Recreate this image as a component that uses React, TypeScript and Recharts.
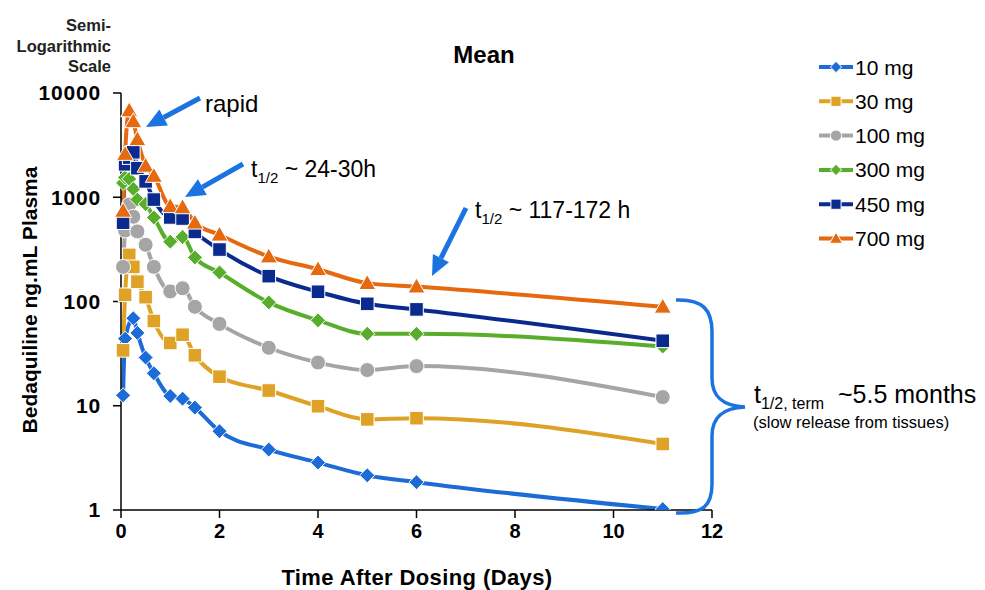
import React from 'react';
import { LineChart, Line, XAxis, YAxis } from 'recharts';

// Mean bedaquiline plasma concentration, semi-log
const times = [0.042, 0.083, 0.167, 0.25, 0.333, 0.5, 0.667, 1, 1.25, 1.5, 2, 3, 4, 5, 6, 11];
const mg10 = [12.6, 44, null, 69, 50, 29, 20.5, 12.4, 11.7, 9.6, 5.7, 3.8, 2.85, 2.15, 1.85, 1.02];
const mg30 = [34, 116, 280, 215, 155, 110, 65, 40, 48, 30.5, 19, 14, 9.9, 7.4, 7.6, 4.3];
const mg100 = [215, 480, 850, 650, 470, 350, 215, 125, 134, 89, 61, 36, 26, 22, 24, 12.1];
const mg300 = [1370, 1550, 1500, 1200, 950, 860, 640, 375, 415, 265, 190, 98, 66, 49, 49, 37];
const mg450 = [570, 2070, 2400, 2700, 1900, 1420, 950, 640, 625, 465, 315, 175, 124, 95, 84, 42];
const mg700 = [740, 2600, 6800, 5350, 3600, 2000, 1600, 820, 800, 570, 437, 270, 204, 150, 139, 89];

const xTicks = [0, 2, 4, 6, 8, 10, 12];
const yTicks = [1, 10, 100, 1000, 10000];

const FONT = "'Liberation Sans', Arial, sans-serif";
const ARROW = '#1A73E0';

type Shape = 'diamond' | 'square' | 'circle' | 'triangle';

const series: { key: string; name: string; color: string; shape: Shape; values: (number | null)[] }[] = [
  { key: 'mg10', name: '10 mg', color: '#1C6BD6', shape: 'diamond', values: mg10 },
  { key: 'mg30', name: '30 mg', color: '#DEA227', shape: 'square', values: mg30 },
  { key: 'mg100', name: '100 mg', color: '#A5A5A5', shape: 'circle', values: mg100 },
  { key: 'mg300', name: '300 mg', color: '#58AE2B', shape: 'diamond', values: mg300 },
  { key: 'mg450', name: '450 mg', color: '#0B2A8E', shape: 'square', values: mg450 },
  { key: 'mg700', name: '700 mg', color: '#E5690F', shape: 'triangle', values: mg700 },
];

const data = times.map((t, i) => {
  const row: any = { t };
  series.forEach((s) => {
    row[s.key] = s.values[i];
  });
  return row;
});

function marker(shape: Shape, cx: number, cy: number, color: string, s = 1, key?: any) {
  const stroke = '#fff';
  if (shape === 'diamond') {
    const r = 7.5 * s;
    return (
      <polygon key={key} points={`${cx},${cy - r} ${cx + r},${cy} ${cx},${cy + r} ${cx - r},${cy}`} fill={color} stroke={stroke} strokeWidth={1} />
    );
  }
  if (shape === 'square') {
    const h = 6.8 * s;
    return <rect key={key} x={cx - h} y={cy - h} width={h * 2} height={h * 2} fill={color} stroke={stroke} strokeWidth={1} />;
  }
  if (shape === 'circle') {
    return <circle key={key} cx={cx} cy={cy} r={7.5 * s} fill={color} stroke={stroke} strokeWidth={1} />;
  }
  const r = 8.5 * s;
  return (
    <polygon key={key} points={`${cx},${cy - r} ${cx + r},${cy + r * 0.75} ${cx - r},${cy + r * 0.75}`} fill={color} stroke={stroke} strokeWidth={1} />
  );
}

function LegendBox() {
  return (
    <g>
      {series.map((s, i) => {
        const y = 67 + i * 34.3;
        return (
          <g key={s.key}>
            <line x1={819} x2={853} y1={y} y2={y} stroke={s.color} strokeWidth={4} />
            {marker(s.shape, 836, y, s.color, 0.75)}
            <text x={855} y={y + 7.5} fontSize={21} fontFamily={FONT} fill="#000">
              {s.name}
            </text>
          </g>
        );
      })}
    </g>
  );
}

function Arrow({ x1, y1, x2, y2 }: { x1: number; y1: number; x2: number; y2: number }) {
  const dx = x2 - x1;
  const dy = y2 - y1;
  const len = Math.sqrt(dx * dx + dy * dy);
  const ux = dx / len;
  const uy = dy / len;
  const hl = 20;
  const hw = 9;
  const bx = x2 - ux * hl;
  const by = y2 - uy * hl;
  return (
    <g>
      <line x1={x1} y1={y1} x2={bx} y2={by} stroke={ARROW} strokeWidth={5} />
      <polygon
        points={`${x2},${y2} ${bx - uy * hw},${by + ux * hw} ${bx + uy * hw},${by - ux * hw}`}
        fill={ARROW}
      />
    </g>
  );
}

function Half({ x, y, rest, size = 23 }: { x: number; y: number; rest: string; size?: number }) {
  return (
    <text x={x} y={y} fontSize={size} fontFamily={FONT} fill="#000" style={{ whiteSpace: 'pre' }}>
      t
      <tspan fontSize={15} dy={6}>
        1/2
      </tspan>
      <tspan dy={-6}>{rest}</tspan>
    </text>
  );
}

export default function App() {
  return (
    <div style={{ position: 'absolute', left: 0, top: 0, width: 985, height: 590, background: '#fff' }}>
      <LineChart width={985} height={590} data={data} margin={{ top: 93, right: 273, bottom: 0, left: 0 }}>
        <XAxis
          dataKey="t"
          type="number"
          domain={[0, 12]}
          ticks={xTicks}
          height={80}
          stroke="#000"
          strokeWidth={1.5}
          tickSize={8}
          tickMargin={6}
          tick={{ fill: '#000', fontSize: 20, fontWeight: 'bold', fontFamily: FONT }}
        />
        <YAxis
          type="number"
          scale="log"
          domain={[1, 10000]}
          ticks={yTicks}
          width={121}
          allowDataOverflow
          stroke="#000"
          strokeWidth={1.5}
          tickSize={8}
          tickMargin={12}
          tick={{ fill: '#000', fontSize: 21, fontWeight: 'bold', fontFamily: FONT, letterSpacing: 0.8 }}
        />
        {series.map((s) => (
          <Line
            key={s.key}
            dataKey={s.key}
            name={s.name}
            type="monotone"
            stroke={s.color}
            strokeWidth={4}
            connectNulls
            isAnimationActive={false}
            dot={(p: any) =>
              p.cx == null || p.cy == null || p.value == null ? (
                <g key={`${s.key}-${p.index}`} />
              ) : (
                marker(s.shape, p.cx, p.cy, s.color, 1, `${s.key}-${p.index}`)
              )
            }
            activeDot={false}
          />
        ))}
      </LineChart>
      <svg width={985} height={590} style={{ position: 'absolute', left: 0, top: 0, pointerEvents: 'none' }}>
        <LegendBox />
        <g fontFamily={FONT} fontWeight="bold" fontSize={16.5} textAnchor="end" fill="#222">
          <text x={111} y={31}>Semi-</text>
          <text x={111} y={52}>Logarithmic</text>
          <text x={111} y={72}>Scale</text>
        </g>
        <text x={484} y={63} textAnchor="middle" fontFamily={FONT} fontWeight="bold" fontSize={24} fill="#000">
          Mean
        </text>
        <text
          x={417}
          y={585}
          textAnchor="middle"
          fontFamily={FONT}
          fontWeight="bold"
          fontSize={22}
          letterSpacing={0.4}
          fill="#000"
        >
          Time After Dosing (Days)
        </text>
        <text
          transform="translate(37,300) rotate(-90)"
          textAnchor="middle"
          fontFamily={FONT}
          fontWeight="bold"
          fontSize={21}
          fill="#000"
        >
          Bedaquiline ng.mL Plasma
        </text>
        <Arrow x1={200} y1={98} x2={146} y2={127} />
        <text x={205} y={112} fontSize={24} fontFamily={FONT} fill="#000">
          rapid
        </text>
        <Arrow x1={243} y1={164} x2={185} y2={197} />
        <Half x={251} y={177} rest=" ~ 24-30h" />
        <Arrow x1={466} y1={208} x2={432} y2={276} />
        <Half x={475} y={218} rest=" ~ 117-172 h" />
        <path
          d="M 676 300 C 703 299, 712 310, 712 332 L 712 378 C 712 398, 724 406, 745 407 C 724 408, 712 416, 712 436 L 712 484 C 712 506, 703 514, 676 513"
          fill="none"
          stroke={ARROW}
          strokeWidth={3.5}
        />
        <text x={754} y={403} fontSize={25} fontFamily={FONT} fill="#000" style={{ whiteSpace: 'pre' }}>
          t
          <tspan fontSize={16} dy={6}>
            1/2, term
          </tspan>
          <tspan dy={-6}>{'  ~5.5 months'}</tspan>
        </text>
        <text x={753} y={428} fontSize={16.5} fontFamily={FONT} fill="#000">
          (slow release from tissues)
        </text>
      </svg>
    </div>
  );
}
